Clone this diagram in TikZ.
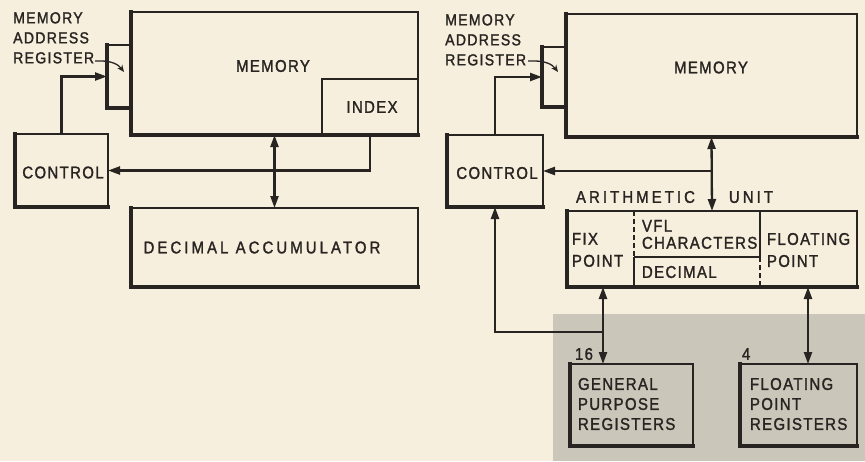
\documentclass[tikz,border=0pt]{standalone}
\usepackage{fontspec}
\usetikzlibrary{arrows.meta}
\newfontfamily\lett[LetterSpace=8,FakeStretch=0.88,FakeBold=1.5]{Liberation Sans}
\newfontfamily\lettwide[LetterSpace=18,FakeStretch=0.88,FakeBold=1.5]{Liberation Sans}
\definecolor{paper}{RGB}{246,239,221}
\definecolor{greyarea}{RGB}{203,198,186}
\definecolor{ink}{RGB}{40,36,33}
\newcommand\heavyedge[1]{\draw[heavyline] (#1.north west) -- (#1.south west) -- (#1.south east);}
\begin{document}
\begin{tikzpicture}[x=1pt,y=-1pt,
  box/.style={draw=ink,line width=2.4pt,inner sep=0pt,outer sep=0pt,anchor=north west},
  heavyline/.style={draw=ink,line width=4.6pt,line cap=rect,line join=miter},
  conn/.style={draw=ink,line width=2.3pt},
  arrowend/.style={-{Triangle[length=12pt,width=8pt]}},
  arrowboth/.style={{Triangle[length=12pt,width=8pt]}-{Triangle[length=12pt,width=8pt]}},
  pointer/.style={draw=ink,line width=1.3pt,-{Stealth[length=7pt,width=6pt]}},
  dsh/.style={draw=ink,line width=2.3pt,dash pattern=on 5pt off 3pt},
  txt/.style={font={\lett\fontsize{17}{20}\selectfont},text=ink,inner sep=0pt,outer sep=0pt},
  lbl/.style={font={\lett\fontsize{16}{20}\selectfont},text=ink,inner sep=0pt,align=left,anchor=north west},
  multi/.style={txt,align=left,anchor=north west}]
\fill[paper] (0,0) rectangle (865,461);
\useasboundingbox (0,0) rectangle (865,461);
\fill[greyarea] (553,314) rectangle (865,461);

% ---------------- left diagram ----------------
\node[box,minimum width=24pt,minimum height=63pt] (marL) at (107,45) {};
\node[box,minimum width=287pt,minimum height=123pt] (memL) at (131,12) {};
\node[box,minimum width=96pt,minimum height=56pt] (idxL) at (322,79) {};
\node[box,minimum width=93pt,minimum height=73pt] (ctrlL) at (15,134) {};
\node[box,minimum width=287pt,minimum height=79pt] (decL) at (131,208) {};
\heavyedge{marL}
\heavyedge{memL}
\heavyedge{ctrlL}
\heavyedge{decL}

\node[txt] (memLt) at (273,66) {MEMORY};
\node[txt] (idxLt) at (372,107) {INDEX};
\node[txt] (ctrlLt) at (63,172.5) {CONTROL};
\node[txt,font={\lettwide\fontsize{17}{20}\selectfont}] (decLt) at (262,247.5) {DECIMAL ACCUMULATOR};
\node[lbl] (marLlbl) at (13,12) {MEMORY\\ADDRESS\\REGISTER};

\coordinate (marLfrom) at (95,61);
\coordinate (marLtip) at (124,72);
\draw[pointer] (marLfrom) -- ++(6,0) .. controls (111,61) and (118,64) .. (marLtip);

\draw[conn,arrowend] (ctrlL.north) |- (marL.west);
\draw[conn,arrowend] (idxL.south) |- (ctrlL.east);
\draw[conn,arrowboth] (memL.south) -- (decL.north);

% ---------------- right diagram ----------------
\node[box,minimum width=24pt,minimum height=60pt] (marR) at (542,47) {};
\node[box,minimum width=291pt,minimum height=123pt] (memR) at (566,14) {};
\node[box,minimum width=96pt,minimum height=72pt] (ctrlR) at (447,135) {};
\node[box,minimum width=290pt,minimum height=76pt] (au) at (567,211) {};
\node[box,minimum width=123pt,minimum height=82pt] (gpr) at (570,364) {};
\node[box,minimum width=117pt,minimum height=82pt] (fpr) at (740,364) {};
\heavyedge{marR}
\heavyedge{memR}
\heavyedge{ctrlR}
\heavyedge{au}
\heavyedge{gpr}
\heavyedge{fpr}

% arithmetic unit partitions
\draw[dsh] (634,211) -- (634,257);
\draw[conn] (634,257) -- (634,287);
\draw[conn] (634,257) -- (760,257) -- (760,211);
\draw[dsh] (760,257) -- (760,287);

\node[txt] (memRt) at (711,67.5) {MEMORY};
\node[txt] (ctrlRt) at (497,173) {CONTROL};
\node[lbl] (marRlbl) at (445,14) {MEMORY\\ADDRESS\\REGISTER};
\node[txt,anchor=west,font={\lettwide\fontsize{17}{20}\selectfont}] (arith) at (576,197) {ARITHMETIC\hspace{34pt}UNIT};
\node[multi,font={\lett\fontsize{17}{22}\selectfont}] (fixt) at (572,233) {FIX\\POINT};
\node[multi,font={\lett\fontsize{17}{17}\selectfont}] (vflt) at (642,220) {VFL\\CHARACTERS};
\node[txt,anchor=west] (dect) at (642,272) {DECIMAL};
\node[multi,font={\lett\fontsize{17}{22}\selectfont}] (flt) at (767,233) {FLOATING\\POINT};
\node[multi] (gprt) at (578,378) {GENERAL\\PURPOSE\\REGISTERS};
\node[multi] (fprt) at (750,378) {FLOATING\\POINT\\REGISTERS};
\node[txt,anchor=west] (n16) at (575,354) {16};
\node[txt,anchor=west] (n4) at (742,354) {4};

\coordinate (marRfrom) at (528,61);
\coordinate (marRtip) at (558,72);
\draw[pointer] (marRfrom) -- ++(6,0) .. controls (545,61) and (552,64) .. (marRtip);

\coordinate (fixx) at (603,0);
\coordinate (flx) at (808,0);
\coordinate (jn) at (603,332);

\draw[conn,arrowend] (ctrlR.north) |- (marR.west);
\draw[conn,arrowboth] (memR.south) -- (au.north);
\draw[conn,arrowend] (memR.south |- ctrlR.east) -- (ctrlR.east);
\draw[conn,arrowboth] (au.south -| fixx) -- (gpr.north -| fixx);
\draw[conn,arrowboth] (au.south -| flx) -- (fpr.north -| flx);
\draw[conn,arrowend] (jn) -| (ctrlR.south);
\end{tikzpicture}
\end{document}
